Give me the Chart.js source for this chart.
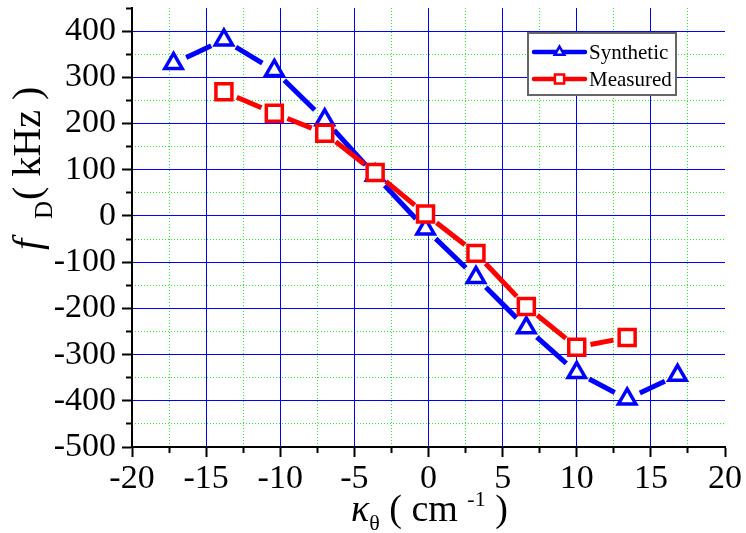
<!DOCTYPE html>
<html>
<head>
<meta charset="utf-8">
<script src="https://cdn.jsdelivr.net/npm/chart.js@4.4.1/dist/chart.umd.min.js"></script>
<style>
  html, body { margin: 0; padding: 0; background: #fff; }
  canvas { display: block; }
</style>
</head>
<body>
<canvas id="fdChart" width="746" height="533"></canvas>
<script>
// ===== Doppler frequency vs. poloidal wavenumber =====

// Synthetic (blue triangles)
const kSynthetic = [-17.2, -13.8, -10.4, -7.0, -3.6, -0.2, 3.2, 6.6, 10.0, 13.4, 16.8];
const fSynthetic = [330, 381, 315, 208, 88, -28, -133, -242, -339, -396, -345];

// Measured (red squares)
const kMeasured = [-13.8, -10.4, -7.0, -3.6, -0.2, 3.2, 6.6, 10.0, 13.4];
const fMeasured = [269, 222, 179, 94, 4, -81, -196, -284, -263];

// Tick labels
const xTickLabels = [-20, -15, -10, -5, 0, 5, 10, 15, 20];
const yTickLabels = [-500, -400, -300, -200, -100, 0, 100, 200, 300, 400];

const seriesNames = ['Synthetic', 'Measured'];

const FONT = "'Liberation Serif'";
const blue = '#0000ff';
const red = '#ff0000';
const minorGreen = '#22ee22';
const GAP = 14; // gap between line ends and marker centres

const toPoints = (xs, ys) => xs.map((x, i) => ({ x: x, y: ys[i] }));

// Lines broken around the markers (positions come from the chart's scales)
const gapLines = {
  id: 'gapLines',
  beforeDatasetsDraw(chart) {
    const ctx = chart.ctx;
    chart.data.datasets.forEach((ds, i) => {
      const pts = chart.getDatasetMeta(i).data;
      ctx.save();
      ctx.strokeStyle = ds.borderColor;
      ctx.lineWidth = 5;
      ctx.lineCap = 'butt';
      for (let k = 1; k < pts.length; k++) {
        const a = pts[k - 1], b = pts[k];
        const dx = b.x - a.x, dy = b.y - a.y;
        const len = Math.hypot(dx, dy);
        if (len <= 2 * GAP) continue;
        const ux = dx / len, uy = dy / len;
        ctx.beginPath();
        ctx.moveTo(a.x + ux * GAP, a.y + uy * GAP);
        ctx.lineTo(b.x - ux * GAP, b.y - uy * GAP);
        ctx.stroke();
      }
      ctx.restore();
    });
  }
};

// draw a run of text pieces (sub/superscripts) starting at 0,0
function drawPieces(ctx, pieces) {
  let x = 0;
  pieces.forEach(p => {
    if (p.at !== undefined) x = p.at;
    ctx.font = p.font;
    ctx.fillText(p.text, x, p.dy || 0);
    x += ctx.measureText(p.text).width;
  });
}

const axisTitles = {
  id: 'axisTitles',
  afterDraw(chart) {
    const ctx = chart.ctx;
    ctx.save();
    ctx.fillStyle = '#000';
    ctx.textBaseline = 'alphabetic';
    ctx.textAlign = 'left';

    // x title
    ctx.save();
    ctx.translate(351, 521);
    drawPieces(ctx, [
      { text: 'κ', font: 'italic 38px ' + FONT },
      { text: 'θ', font: '22px ' + FONT, dy: 9 },
      { text: ' ( cm ', font: '38px ' + FONT },
      { text: '-1', font: '22px ' + FONT, dy: -15 },
      { text: ' )', font: '38px ' + FONT }
    ]);
    ctx.restore();

    // y title
    ctx.save();
    ctx.translate(40, 252);
    ctx.rotate(-Math.PI / 2);
    drawPieces(ctx, [
      { text: 'f', font: 'italic 40px ' + FONT, at: 2 },
      { text: 'D', font: '25px ' + FONT, dy: 12, at: 33 },
      { text: '( kHz )', font: '40px ' + FONT, at: 52 }
    ]);
    ctx.restore();
    ctx.restore();
  }
};

// Legend box inside the plot
const boxLegend = {
  id: 'boxLegend',
  afterDraw(chart) {
    const ctx = chart.ctx;
    const bx = 528, by = 33, bw = 148, bh = 62;
    ctx.save();
    ctx.fillStyle = '#fff';
    ctx.fillRect(bx, by, bw, bh);
    ctx.strokeStyle = '#666';
    ctx.lineWidth = 2;
    ctx.strokeRect(bx, by, bw, bh);

    const rows = [52, 79];
    const legendMarkers = [
      { pointStyle: 'triangle', radius: 5.5, borderWidth: 2.5 },
      { pointStyle: 'rect', radius: 6.5, borderWidth: 2.5 }
    ];
    chart.data.datasets.forEach((ds, i) => {
      const y = rows[i];
      ctx.strokeStyle = ds.borderColor;
      ctx.lineWidth = 4.5;
      ctx.lineCap = 'round';
      ctx.beginPath();
      ctx.moveTo(534, y);
      ctx.lineTo(585, y);
      ctx.stroke();
      ctx.fillStyle = '#fff';
      ctx.strokeStyle = ds.borderColor;
      ctx.lineWidth = legendMarkers[i].borderWidth;
      Chart.helpers.drawPoint(ctx, {
        pointStyle: legendMarkers[i].pointStyle,
        radius: legendMarkers[i].radius,
        borderWidth: legendMarkers[i].borderWidth,
        rotation: 0
      }, 559.5, y);
      ctx.fillStyle = '#000';
      ctx.font = '21px ' + FONT;
      ctx.textBaseline = 'alphabetic';
      ctx.fillText(ds.label, 589, y + 7);
    });
    ctx.restore();
  }
};

const isMajorX = v => Math.abs(v / 5 - Math.round(v / 5)) < 1e-6;
const isMajorY = v => Math.abs(v / 100 - Math.round(v / 100)) < 1e-6;

// keep label paddings from pushing the plot area around
const noPad = s => { s.paddingTop = 0; s.paddingBottom = 0; s.paddingLeft = 0; s.paddingRight = 0; };

new Chart(document.getElementById('fdChart'), {
  type: 'scatter',
  data: {
    datasets: [
      {
        label: seriesNames[0],
        data: toPoints(kSynthetic, fSynthetic),
        showLine: false,
        borderColor: blue,
        backgroundColor: '#fff',
        pointStyle: 'triangle',
        pointRadius: 10,
        pointBorderWidth: 3.5,
        pointBackgroundColor: '#fff',
        pointBorderColor: blue,
        order: 2
      },
      {
        label: seriesNames[1],
        data: toPoints(kMeasured, fMeasured),
        showLine: false,
        borderColor: red,
        backgroundColor: '#fff',
        pointStyle: 'rect',
        pointRadius: 11.3,
        pointBorderWidth: 3.5,
        pointBackgroundColor: '#fff',
        pointBorderColor: red,
        order: 1
      }
    ]
  },
  options: {
    responsive: false,
    devicePixelRatio: 1,
    animation: false,
    events: [],
    layout: { autoPadding: false, padding: { left: 0, top: 8, right: 21, bottom: 0 } },
    plugins: {
      legend: { display: false },
      tooltip: { enabled: false }
    },
    scales: {
      xMinor: {
        type: 'linear',
        position: 'bottom',
        weight: 0,
        min: -20,
        max: 20,
        afterFit: s => { s.height = 0; noPad(s); },
        ticks: { display: false, stepSize: 2.5, autoSkip: false },
        border: { display: false, dash: [1, 2] },
        grid: {
          lineWidth: 1,
          color: c => (isMajorX(c.tick.value)) ? 'rgba(0,0,0,0)' : minorGreen,
          tickLength: 6,
          tickWidth: 2,
          tickColor: c => isMajorX(c.tick.value) ? 'rgba(0,0,0,0)' : '#000',
          tickBorderDash: []
        }
      },
      yMinor: {
        type: 'linear',
        position: 'left',
        weight: 0,
        min: -500,
        max: 450,
        afterFit: s => { s.width = 0; noPad(s); },
        ticks: { display: false, stepSize: 50, autoSkip: false },
        border: { display: false, dash: [1, 2] },
        grid: {
          lineWidth: 1,
          color: c => (isMajorY(c.tick.value) || c.tick.value >= 450) ? 'rgba(0,0,0,0)' : minorGreen,
          tickLength: 6,
          tickWidth: 2,
          tickColor: c => isMajorY(c.tick.value) ? 'rgba(0,0,0,0)' : '#000',
          tickBorderDash: []
        }
      },
      x: {
        type: 'linear',
        position: 'bottom',
        weight: 1,
        min: -20,
        max: 20,
        afterFit: s => { s.height = 86; noPad(s); },
        ticks: {
          stepSize: 5,
          autoSkip: false,
          maxRotation: 0,
          padding: 2,
          color: '#000',
          font: { family: 'Liberation Serif', size: 34 },
          callback: v => xTickLabels.includes(v) ? String(v) : ''
        },
        border: { display: true, color: '#000', width: 2 },
        grid: {
          lineWidth: 1,
          color: c => (c.tick.value >= 20) ? 'rgba(0,0,0,0)' : blue,
          tickLength: 10,
          tickWidth: 2,
          tickColor: '#000'
        }
      },
      y: {
        type: 'linear',
        position: 'left',
        weight: 1,
        min: -500,
        max: 450,
        afterFit: s => { s.width = 132; noPad(s); },
        ticks: {
          stepSize: 100,
          includeBounds: false,
          autoSkip: false,
          padding: 6,
          color: '#000',
          font: { family: 'Liberation Serif', size: 34 },
          callback: v => yTickLabels.includes(v) ? String(v) : ''
        },
        border: { display: true, color: '#000', width: 2 },
        grid: {
          lineWidth: 1,
          color: c => (c.tick.value > 400) ? 'rgba(0,0,0,0)' : blue,
          tickLength: 10,
          tickWidth: 2,
          tickColor: '#000'
        }
      }
    }
  },
  plugins: [gapLines, axisTitles, boxLegend]
});
</script>
</body>
</html>
